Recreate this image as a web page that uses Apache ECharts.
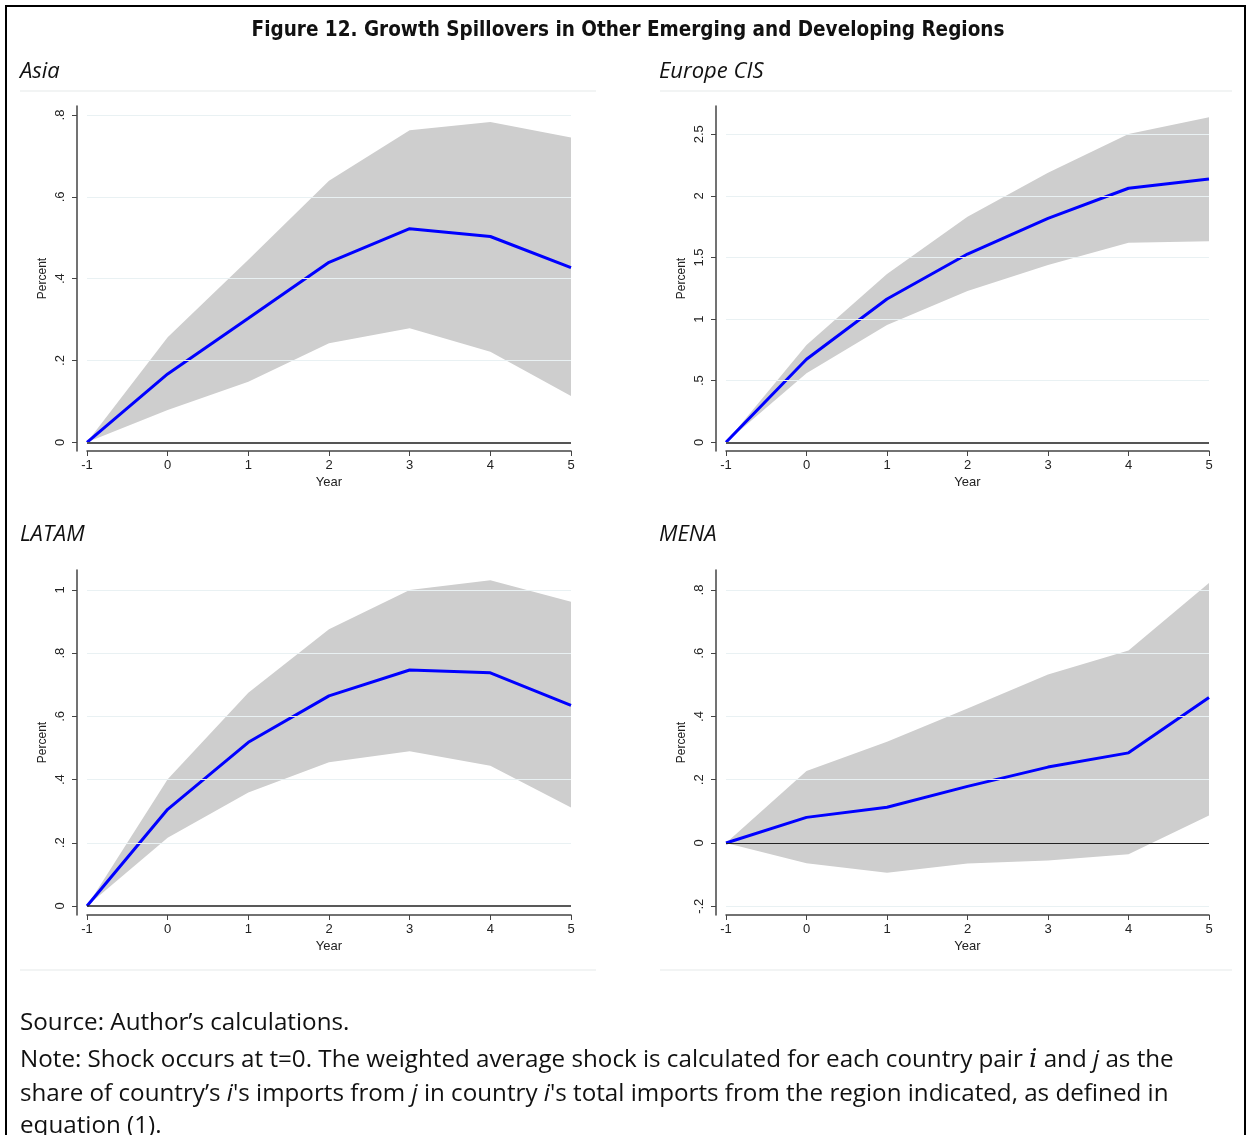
<!DOCTYPE html>
<html>
<head>
<meta charset="utf-8">
<script src="https://cdn.jsdelivr.net/npm/echarts@6/dist/echarts.min.js"></script>
<style>
  html, body { margin: 0; padding: 0; background: #fff; overflow: hidden; }
  #chart { position: absolute; left: 0; top: 0; width: 1250px; height: 1135px; }
  #frame { position: absolute; left: 5px; top: 5px; width: 1237px; height: 1200px;
           border: 2.5px solid #000; pointer-events: none; }
</style>
</head>
<body>
<div id="chart"></div>
<div id="frame"></div>
<script>
// 年份（冲击发生在 t=0）
const years = ['-1', '0', '1', '2', '3', '4', '5']

// Asia
const asiaMean  = [0, 0.167, 0.303, 0.44, 0.522, 0.503, 0.427]
const asiaLower = [0, 0.079, 0.148, 0.242, 0.279, 0.221, 0.113]
const asiaUpper = [0, 0.257, 0.446, 0.639, 0.763, 0.783, 0.745]

// Europe CIS
const eurMean  = [0, 0.674, 1.163, 1.528, 1.818, 2.062, 2.137]
const eurLower = [0, 0.56, 0.952, 1.228, 1.439, 1.62, 1.631]
const eurUpper = [0, 0.79, 1.366, 1.831, 2.188, 2.502, 2.638]

// LATAM
const latMean  = [0, 0.306, 0.518, 0.665, 0.747, 0.738, 0.635]
const latLower = [0, 0.216, 0.359, 0.455, 0.49, 0.444, 0.312]
const latUpper = [0, 0.401, 0.675, 0.876, 1.0, 1.031, 0.963]

// MENA
const menaMean  = [0, 0.081, 0.113, 0.179, 0.24, 0.285, 0.46]
const menaLower = [0, -0.064, -0.094, -0.065, -0.055, -0.036, 0.087]
const menaUpper = [0, 0.228, 0.32, 0.425, 0.533, 0.609, 0.822]

// y 轴刻度
const asiaTicks = [0, 0.2, 0.4, 0.6, 0.8]
const eurTicks  = [0, 0.5, 1, 1.5, 2, 2.5]
const latTicks  = [0, 0.2, 0.4, 0.6, 0.8, 1]
const menaTicks = [-0.2, 0, 0.2, 0.4, 0.6, 0.8]

const panels = [
  { name: 'Asia', mean: asiaMean, lower: asiaLower, upper: asiaUpper, ticks: asiaTicks,
    left: 87, width: 484, top: 106, min: -0.0213, max: 0.822, zeroColor: '#555', zeroWidth: 2 },
  { name: 'Europe CIS', mean: eurMean, lower: eurLower, upper: eurUpper, ticks: eurTicks,
    left: 726, width: 483, top: 106, min: -0.0706, max: 2.7297, zeroColor: '#555', zeroWidth: 2 },
  { name: 'LATAM', mean: latMean, lower: latLower, upper: latUpper, ticks: latTicks,
    left: 87, width: 484, top: 570, min: -0.0285, max: 1.0633, zeroColor: '#222', zeroWidth: 1.5 },
  { name: 'MENA', mean: menaMean, lower: menaLower, upper: menaUpper, ticks: menaTicks,
    left: 726, width: 483, top: 570, min: -0.2277, max: 0.8632, zeroColor: '#222', zeroWidth: 1.2 }
]

const axisColor = '#444'
const labelFont = "'Liberation Sans', Arial, sans-serif"
const textFont = "'Open Sans', 'Noto Sans', sans-serif"

// 去掉前导 0：.8、.5、-.2
function fmt(v) {
  if (v === 0) return '0'
  let s = String(Math.round(v * 100) / 100)
  return s.replace(/^0\./, '.').replace(/^-0\./, '-.')
}

const grid = [], xAxis = [], yAxis = [], series = []

panels.forEach((p, i) => {
  grid.push({ left: p.left, top: p.top, width: p.width, height: 345 })
  xAxis.push({
    gridIndex: i,
    type: 'category',
    data: years,
    boundaryGap: false,
    name: 'Year',
    nameLocation: 'middle',
    nameGap: 25,
    nameTextStyle: { color: '#222', fontSize: 13, fontFamily: labelFont },
    axisLine: { show: true, onZero: false, lineStyle: { color: axisColor, width: 1.5 } },
    axisTick: { show: true, length: 5, alignWithLabel: true, lineStyle: { color: axisColor } },
    axisLabel: { color: '#222', fontSize: 13, fontFamily: labelFont, margin: 8, interval: 0 },
    splitLine: { show: false }
  })
  yAxis.push({
    gridIndex: i,
    type: 'value',
    min: p.min,
    max: p.max,
    offset: 10,
    name: 'Percent',
    nameLocation: 'middle',
    nameRotate: 90,
    nameGap: 28,
    nameTextStyle: { color: '#222', fontSize: 12, fontFamily: labelFont },
    axisLine: { show: true, onZero: false, lineStyle: { color: axisColor, width: 1.5 } },
    axisTick: { show: true, length: 5, customValues: p.ticks, lineStyle: { color: axisColor } },
    axisLabel: {
      color: '#222', fontSize: 13, fontFamily: labelFont, rotate: 90, margin: 10,
      customValues: p.ticks, formatter: fmt
    },
    splitLine: { show: false }
  })

  // 置信区间下界（透明，用于堆叠）
  series.push({
    type: 'line',
    xAxisIndex: i,
    yAxisIndex: i,
    stack: 'band' + i,
    stackStrategy: 'all',
    data: p.lower,
    symbol: 'none',
    lineStyle: { width: 0, opacity: 0 },
    silent: true,
    z: 1,
    markLine: {
      silent: true,
      symbol: 'none',
      label: { show: false },
      animation: false,
      lineStyle: { color: '#e9f1f3', width: 1, type: 'solid' },
      data: p.ticks.filter(t => t !== 0).map(t => ({ yAxis: t }))
    }
  })
  // 置信区间宽度
  series.push({
    type: 'line',
    xAxisIndex: i,
    yAxisIndex: i,
    stack: 'band' + i,
    stackStrategy: 'all',
    data: p.upper.map((u, k) => u - p.lower[k]),
    symbol: 'none',
    lineStyle: { width: 0, opacity: 0 },
    areaStyle: { color: '#cecece', opacity: 1 },
    silent: true,
    z: 2
  })
  // 零线
  series.push({
    type: 'line',
    xAxisIndex: i,
    yAxisIndex: i,
    data: [],
    z: 3,
    markLine: {
      silent: true,
      symbol: 'none',
      label: { show: false },
      animation: false,
      lineStyle: { color: p.zeroColor, width: p.zeroWidth, type: 'solid' },
      data: [{ yAxis: 0 }]
    }
  })
  // 均值线
  series.push({
    type: 'line',
    xAxisIndex: i,
    yAxisIndex: i,
    data: p.mean,
    symbol: 'none',
    lineStyle: { color: '#0000ff', width: 3 },
    z: 4
  })
})

const panelTitleStyle = { fontFamily: textFont, fontStyle: 'italic', fontWeight: 'normal', fontSize: 22, color: '#111' }
const titles = [
  {
    text: 'Figure 12. Growth Spillovers in Other Emerging and Developing Regions',
    left: 628, top: 20, padding: 0, textAlign: 'center',
    textStyle: { fontFamily: "'Liberation Sans Narrow', 'DejaVu Sans Condensed', sans-serif",
                 fontWeight: 'bold', fontSize: 20.5, color: '#111' }
  },
  { text: 'Asia', left: 20, top: 61, padding: 0, textStyle: panelTitleStyle },
  { text: 'Europe CIS', left: 659, top: 61, padding: 0, textStyle: panelTitleStyle },
  { text: 'LATAM', left: 20, top: 524, padding: 0, textStyle: panelTitleStyle },
  { text: 'MENA', left: 659, top: 524, padding: 0, textStyle: panelTitleStyle }
]

const noteStyle = {
  fontFamily: textFont, fontWeight: 'normal', fontSize: 24.2, color: '#111',
  rich: {
    m: { fontFamily: "'DejaVu Serif', serif", fontStyle: 'italic', fontSize: 26, color: '#111' },
    it: { fontFamily: textFont, fontStyle: 'italic', fontSize: 24.2, color: '#111' }
  }
}
const noteLines = [
  'Source: Author\u2019s calculations.',
  'Note: Shock occurs at t=0. The weighted average shock is calculated for each country pair {m|i} and {it|j} as the',
  'share of country\u2019s {it|i}\'s imports from {it|j} in country {it|i}\'s total imports from the region indicated, as defined in',
  'equation (1).'
]
const noteTops = [1011, 1047, 1082, 1114]
noteLines.forEach((t, k) => {
  titles.push({ text: t, left: 20, top: noteTops[k], padding: 0, textStyle: noteStyle })
})

// 子图上下的浅色边线
const sepColor = '#eef1f1'
const sepLines = []
;[[20, 596], [660, 1232]].forEach(([x1, x2]) => {
  ;[91, 970].forEach(y => {
    sepLines.push({ type: 'line', shape: { x1, y1: y, x2, y2: y }, style: { stroke: sepColor, lineWidth: 1.5 }, silent: true })
  })
})

const chart = echarts.init(document.getElementById('chart'))
chart.setOption({
  backgroundColor: '#fff',
  animation: false,
  title: titles,
  grid,
  xAxis,
  yAxis,
  series,
  graphic: sepLines
})
</script>
</body>
</html>
